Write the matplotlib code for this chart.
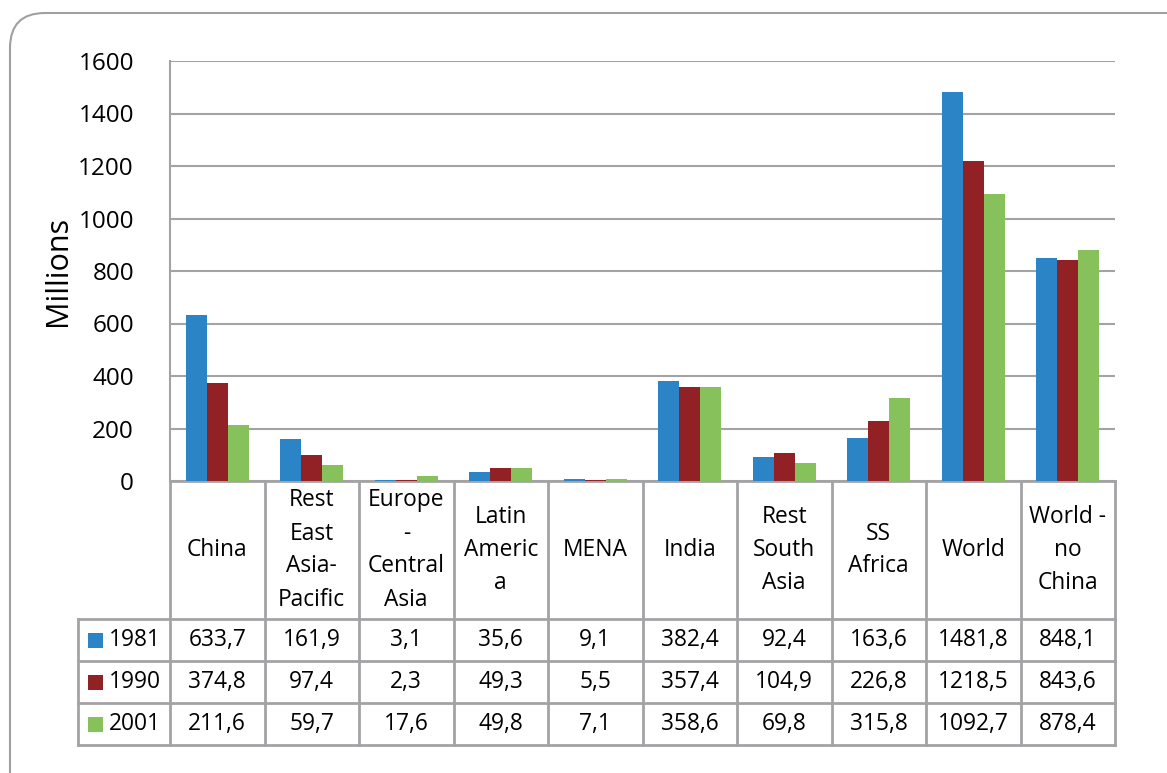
import matplotlib.pyplot as plt
import matplotlib.transforms as mtransforms
from matplotlib.patches import FancyBboxPatch, Rectangle

plt.rcParams['font.family'] = ['Open Sans', 'DejaVu Sans']

regions = ['China', 'Rest\nEast\nAsia-\nPacific', 'Europe\n-\nCentral\nAsia', 'Latin\nAmeric\na', 'MENA',
           'India', 'Rest\nSouth\nAsia', 'SS\nAfrica', 'World', 'World -\nno\nChina']
years = ['1981', '1990', '2001']
v1981 = [633.7, 161.9, 3.1, 35.6, 9.1, 382.4, 92.4, 163.6, 1481.8, 848.1]
v1990 = [374.8, 97.4, 2.3, 49.3, 5.5, 357.4, 104.9, 226.8, 1218.5, 843.6]
v2001 = [211.6, 59.7, 17.6, 49.8, 7.1, 358.6, 69.8, 315.8, 1092.7, 878.4]
series = [v1981, v1990, v2001]
colors = ['#2B84C5', '#912125', '#87C15C']
grid_c = '#A3A3A6'

W, H = 1167, 773
fig = plt.figure(figsize=(W / 100, H / 100), dpi=100)
ax = fig.add_axes([170 / W, (H - 481) / H, 945 / W, 420 / H])

# outer rounded frame
frame = FancyBboxPatch((10 / W, -0.1), 1.2, (H - 13) / H + 0.1,
                       boxstyle='round,pad=0,rounding_size=0.03',
                       transform=fig.transFigure, fill=False,
                       edgecolor='#A0A0A0', linewidth=1.5, mutation_aspect=W / H)
fig.patches.append(frame)

bw = 0.222
x = list(range(len(regions)))
for k, vals in enumerate(series):
    ax.bar([i + (k - 1) * bw for i in x], vals, width=bw, color=colors[k], zorder=3)

ax.set_xlim(-0.5, len(regions) - 0.5)
ax.set_ylim(0, 1600)
ax.set_yticks(range(0, 1601, 200))
ax.yaxis.grid(True, color=grid_c, linewidth=1.5, zorder=0)
ax.set_xticks([])
ax.tick_params(axis='y', length=0, pad=26, labelsize=17.5)
for s in ['top', 'right', 'bottom']:
    ax.spines[s].set_visible(False)
ax.spines['left'].set_color(grid_c)
ax.spines['left'].set_linewidth(1.5)
ax.set_ylabel('Millions', fontsize=22, labelpad=4)

# data table under the plot
tr = mtransforms.blended_transform_factory(ax.transData, ax.transAxes)
y_hdr = -(619 - 481) / 420
row_h = 0.1
y_bottom = y_hdr - 3 * row_h
x_left = -1.474
lk = dict(transform=tr, clip_on=False, color=grid_c, linewidth=2)

ax.plot([-0.5, 9.5], [0, 0], **lk)
for i in range(len(regions) + 1):
    ax.plot([i - 0.5, i - 0.5], [0, y_bottom], **lk)
ax.plot([x_left, x_left], [y_hdr, y_bottom], **lk)
for r in range(4):
    yy = y_hdr - r * row_h
    ax.plot([x_left, 9.5], [yy, yy], **lk)

for i, name in enumerate(regions):
    ax.text(i, y_hdr / 2, name, transform=tr, ha='center', va='center',
            fontsize=16.4, linespacing=1.5, multialignment='center')

for r, (yr, vals) in enumerate(zip(years, series)):
    yc = y_hdr - (r + 0.5) * row_h
    ax.add_patch(Rectangle((-1.368, yc - 0.0179), 0.159, 0.0357, transform=tr,
                           facecolor=colors[r], edgecolor='none', clip_on=False))
    ax.text(-1.145, yc, yr, transform=tr, ha='left', va='center', fontsize=16.4)
    for i, v in enumerate(vals):
        ax.text(i, yc, f'{v:.1f}'.replace('.', ','), transform=tr,
                ha='center', va='center', fontsize=16.4)

fig.savefig('out.png', dpi=100)
